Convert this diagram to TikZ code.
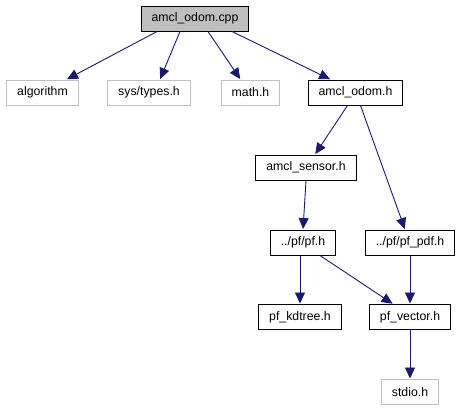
\documentclass[tikz,border=0pt]{standalone}
\usepackage{fontspec}
\setmainfont{Liberation Sans}
\usetikzlibrary{arrows.meta}
\definecolor{edgeblue}{HTML}{191970}
\definecolor{boxgray}{HTML}{BFBFBF}

\begin{document}
\begin{tikzpicture}[x=1bp,y=-1bp,
    file/.style={draw=black,line width=1bp,minimum height=25bp,inner xsep=10.5bp,
      font=\fontsize{12.3bp}{14bp}\selectfont},
    sysfile/.style={file,draw=boxgray},
    topfile/.style={file,fill=boxgray},
    dep/.style={draw=edgeblue,line width=0.9bp,-{Triangle[length=11bp,width=10bp]},
      shorten >=0.5bp}]
    \useasboundingbox (0,0) rectangle (464,411);
    % nodes
    \node[topfile] (cpp) at (195,18.5) {amcl\_odom.cpp};
    \node[sysfile] (algorithm) at (42.5,92.5) {algorithm};
    \node[sysfile] (systypes) at (149,92.5) {sys/types.h};
    \node[sysfile] (math) at (250.5,92.5) {math.h};
    \node[file] (odomh) at (355.5,92.5) {amcl\_odom.h};
    \node[file] (sensor) at (306,167.5) {amcl\_sensor.h};
    \node[file] (pf) at (303,242.5) {../pf/pf.h};
    \node[file] (pdf) at (410,242.5) {../pf/pf\_pdf.h};
    \node[file] (kdtree) at (300,317) {pf\_kdtree.h};
    \node[file] (vector) at (410,317) {pf\_vector.h};
    \node[sysfile] (stdio) at (410,392) {stdio.h};
    % edges
    \draw[dep] ([xshift=-38bp]cpp.south) -- ([xshift=24bp]algorithm.north);
    \draw[dep] ([xshift=-15bp]cpp.south) -- ([xshift=11bp]systypes.north);
    \draw[dep] ([xshift=13bp]cpp.south) -- ([xshift=-10bp]math.north);
    \draw[dep] ([xshift=37bp]cpp.south) -- ([xshift=-25bp]odomh.north);
    \draw[dep] ([xshift=-8bp]odomh.south) -- ([xshift=9bp]sensor.north);
    \draw[dep] ([xshift=5bp]odomh.south) -- ([xshift=-5bp]pdf.north);
    \draw[dep] (sensor.south) -- (pf.north);
    \draw[dep] (pf.south-|kdtree) -- (kdtree.north);
    \draw[dep] ([xshift=17bp]pf.south) -- ([xshift=-17bp]vector.north);
    \draw[dep] (pdf.south) -- (vector.north);
    \draw[dep] (vector.south) -- (stdio.north);
\end{tikzpicture}
\end{document}
